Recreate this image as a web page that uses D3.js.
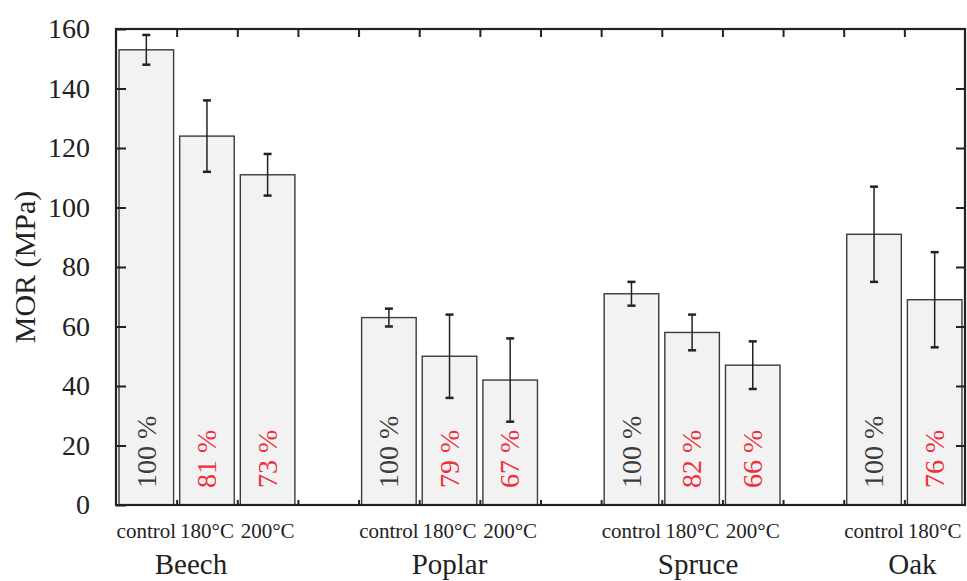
<!DOCTYPE html>
<html>
<head>
<meta charset="utf-8">
<script src="https://cdn.jsdelivr.net/npm/d3@7"></script>
<style>
  body { margin: 0; background: #fff; }
  svg text { font-family: "Liberation Serif", "Times New Roman", serif; }
</style>
</head>
<body>
<svg id="grafico" width="967" height="581"></svg>
<script>
// dados ---------------------------------------------------------------
const species = ["Beech", "Poplar", "Spruce", "Oak"];
const treatments = [
  ["control", "180°C", "200°C"],
  ["control", "180°C", "200°C"],
  ["control", "180°C", "200°C"],
  ["control", "180°C"]
];
const morMean = [
  [153, 124, 111],
  [63, 50, 42],
  [71, 58, 47],
  [91, 69]
];
const morErr = [
  [5, 12, 7],
  [3, 14, 14],
  [4, 6, 8],
  [16, 16]
];
const pctLabels = [
  ["100 %", "81 %", "73 %"],
  ["100 %", "79 %", "67 %"],
  ["100 %", "82 %", "66 %"],
  ["100 %", "76 %"]
];
const yTicks = [0, 20, 40, 60, 80, 100, 120, 140, 160];
const yTitle = "MOR (MPa)";

// layout --------------------------------------------------------------
const margin = {top: 29, right: 2, bottom: 76, left: 116};
const W = 967, H = 581;
const width = W - margin.left - margin.right;
const height = H - margin.top - margin.bottom;
const slotsPerGroup = 4;
const nSlots = species.length * slotsPerGroup - 2; // ultimo grupo so tem 2 barras
const groupLabelShift = [-16, 0, 6, 8];

const svg = d3.select("#grafico");
const g = svg.append("g").attr("transform", `translate(${margin.left},${margin.top})`);

const x = d3.scaleLinear().domain([0, nSlots]).range([0, width]);
const y = d3.scaleLinear().domain([0, 160]).range([height, 0]);
const slotW = x(1) - x(0);
const barW = slotW * 0.9;

// achata os dados
const bars = [];
species.forEach((sp, gi) => {
  morMean[gi].forEach((v, ti) => {
    bars.push({
      species: sp, gi: gi, ti: ti,
      slot: gi * slotsPerGroup + ti,
      treatment: treatments[gi][ti],
      value: v, err: morErr[gi][ti], pct: pctLabels[gi][ti]
    });
  });
});

// barras
g.selectAll("rect.bar")
  .data(bars)
  .enter().append("rect")
  .attr("class", "bar")
  .attr("x", d => x(d.slot + 0.5) - barW / 2)
  .attr("y", d => y(d.value))
  .attr("width", barW)
  .attr("height", d => y(0) - y(d.value))
  .attr("fill", "#f2f2f2")
  .attr("stroke", "#3a3a3a")
  .attr("stroke-width", 1.4);

// barras de erro
const eb = g.selectAll("g.err").data(bars).enter().append("g").attr("class", "err")
  .attr("stroke", "#222");
eb.append("line")
  .attr("x1", d => x(d.slot + 0.5)).attr("x2", d => x(d.slot + 0.5))
  .attr("y1", d => y(d.value + d.err)).attr("y2", d => y(d.value - d.err))
  .attr("stroke-width", 1.5);
[1, -1].forEach(s => {
  eb.append("line")
    .attr("x1", d => x(d.slot + 0.5) - 4).attr("x2", d => x(d.slot + 0.5) + 4)
    .attr("y1", d => y(d.value + s * d.err)).attr("y2", d => y(d.value + s * d.err))
    .attr("stroke-width", 2.5);
});

// porcentagens (texto vertical)
g.selectAll("text.pct")
  .data(bars)
  .enter().append("text")
  .attr("class", "pct")
  .attr("transform", d => `translate(${x(d.slot + 0.5)},${y(0) - 17}) rotate(-90)`)
  .attr("dy", "0.33em")
  .style("font-size", "28px")
  .attr("fill", d => d.ti === 0 ? "#3c3c3c" : "#ef2f3c")
  .text(d => d.pct);

// eixos (ticks para dentro) -------------------------------------------
const tickStyle = sel => {
  sel.select(".domain").remove();
  sel.selectAll(".tick line").attr("stroke", "#222").attr("stroke-width", 2);
};
const xTickVals = d3.range(1, nSlots);

g.append("g")
  .call(d3.axisLeft(y).tickValues(yTicks).tickSizeInner(-10).tickSizeOuter(0).tickPadding(26))
  .call(tickStyle)
  .call(a => a.selectAll("text").style("font-size", "28px").attr("fill", "#222"));

g.append("g")
  .attr("transform", `translate(${width},0)`)
  .call(d3.axisRight(y).tickValues(yTicks.slice(1, -1)).tickSizeInner(-9).tickSizeOuter(0).tickFormat(""))
  .call(tickStyle);

g.append("g")
  .call(d3.axisTop(x).tickValues(xTickVals).tickSizeInner(-8).tickSizeOuter(0).tickFormat(""))
  .call(tickStyle);

g.append("g")
  .attr("transform", `translate(0,${height})`)
  .call(d3.axisBottom(x).tickValues(xTickVals).tickSizeInner(-5).tickSizeOuter(0).tickFormat(""))
  .call(tickStyle);

// moldura
g.append("rect")
  .attr("x", 0).attr("y", 0).attr("width", width).attr("height", height)
  .attr("fill", "none").attr("stroke", "#222").attr("stroke-width", 2.2);

// rotulos das barras
g.selectAll("text.trt")
  .data(bars)
  .enter().append("text")
  .attr("class", "trt")
  .attr("x", d => x(d.slot + 0.5))
  .attr("y", height + 33)
  .attr("text-anchor", "middle")
  .style("font-size", "21px")
  .attr("fill", "#222")
  .text(d => d.treatment);

// rotulos das especies
g.selectAll("text.sp")
  .data(species)
  .enter().append("text")
  .attr("class", "sp")
  .attr("x", (d, i) => x(i * slotsPerGroup + treatments[i].length / 2) + groupLabelShift[i])
  .attr("y", height + 69)
  .attr("text-anchor", "middle")
  .style("font-size", "29px")
  .attr("fill", "#222")
  .text(d => d);

// titulo Y
svg.append("text")
  .attr("transform", `translate(35,${margin.top + height / 2}) rotate(-90)`)
  .attr("text-anchor", "middle")
  .style("font-size", "30px")
  .attr("fill", "#222")
  .text(yTitle);
</script>
</body>
</html>
